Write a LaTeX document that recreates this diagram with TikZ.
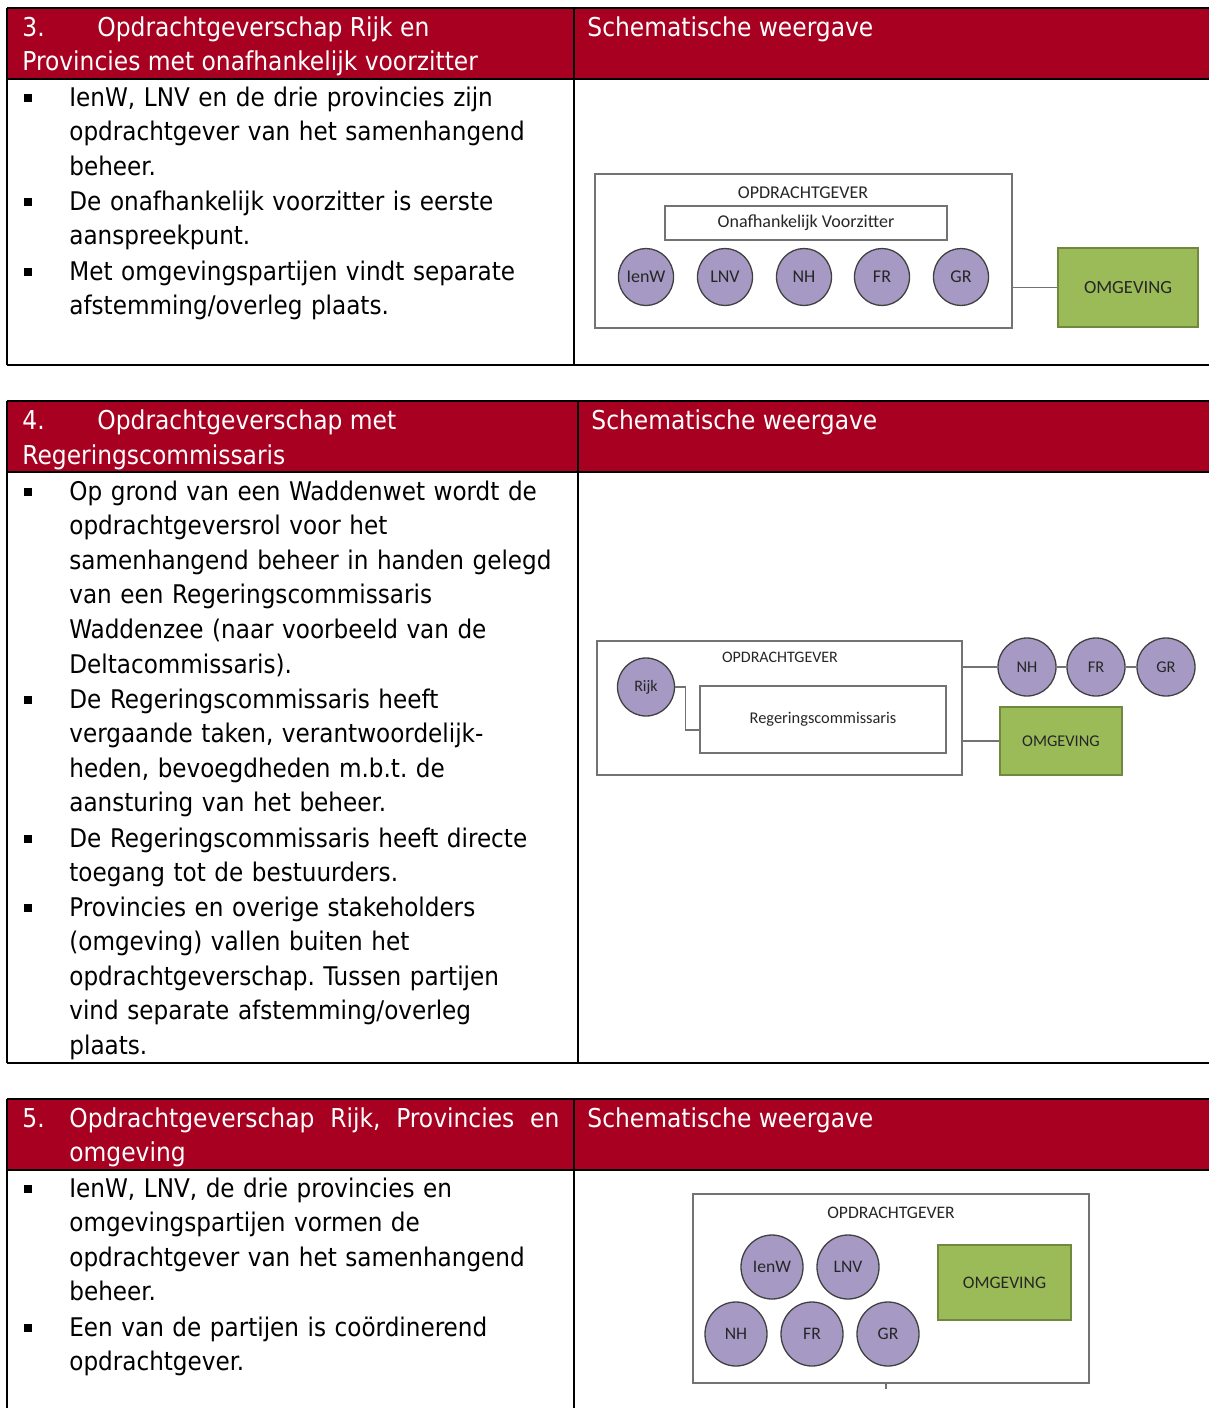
\documentclass[tikz,border=0pt]{standalone}
\usepackage{fontspec}
\setmainfont{DejaVu Sans Condensed}
\newfontfamily\calibri{Carlito}
\usepackage{xcolor}
\usepackage{tikz}
\usetikzlibrary{shapes.geometric}
\frenchspacing

\definecolor{kopRood}{RGB}{168,0,33}
\definecolor{paars}{RGB}{166,154,196}
\definecolor{groen}{RGB}{155,187,89}
\definecolor{groenRand}{RGB}{113,137,63}

\begin{document}
\begin{tikzpicture}[x=0.5pt,y=-0.5pt]
			\tikzstyle{rand} = [line width=1pt]
			\tikzstyle{dun} = [line width=0.7pt]
			\tikzstyle{kop} = [anchor=base west, inner sep=0pt, text=white, font=\fontsize{13}{17.33}\selectfont]
			\tikzstyle{tekst} = [anchor=base west, inner sep=0pt, text width=270pt, align=left, font=\fontsize{12.85}{17.33}\selectfont]
			\tikzstyle{blokje} = [fill=black, inner sep=0pt, minimum size=3.6pt]
			\tikzstyle{kader} = [draw=black!55, line width=0.7pt, inner sep=0pt]
			\tikzstyle{label} = [inner sep=0pt, text=black!85]
			\tikzstyle{partij} = [ellipse, draw=black!75, fill=paars, line width=0.65pt, inner sep=0pt, text=black!85]
			\tikzstyle{omgeving} = [draw=groenRand, fill=groen, line width=0.8pt, inner sep=0pt, text=black!85]
			\tikzset{lijn/.style = {draw=black!55, line width=0.6pt}}
			
			\useasboundingbox (0,0) rectangle (1209,1408);
			
			% tabel 3
			\fill[kopRood] (7,8) rectangle (1209,79);
			\draw[rand] (7,8) -- (1209,8);
			\draw[rand] (7,79) -- (1209,79);
			\draw[rand] (7,365) -- (1209,365);
			\draw[dun] (7,8) -- (7,365);
			\draw[dun] (574,8) -- (574,365);
			
			\node[kop](nr3) at (22,36) {3.};
			\node[kop](titel3a) at (97,36) {Opdrachtgeverschap Rijk en};
			\node[kop](titel3b) at (22,70) {Provincies met onafhankelijk voorzitter};
			\node[kop](schema3) at (587,36) {Schematische weergave};
			
			\node[blokje] at (28,98) {};
			\node[tekst](t3a) at (69,106) {IenW, LNV en de drie provincies zijn\\opdrachtgever van het samenhangend\\beheer.};
			\node[blokje] at (28,202) {};
			\node[tekst](t3b) at (69,210) {De onafhankelijk voorzitter is eerste\\aanspreekpunt.};
			\node[blokje] at (28,272) {};
			\node[tekst](t3c) at (69,280) {Met omgevingspartijen vindt separate\\afstemming/overleg plaats.};
			
			% schema 3
			\node[kader, minimum width=208.5pt, minimum height=77pt](opdr3) at (803.5,251) {};
			\node[label, font=\calibri\fontsize{9}{10}\selectfont](opdrtekst3) at (803,193) {OPDRACHTGEVER};
			\node[kader, minimum width=141pt, minimum height=17pt, font=\calibri\fontsize{9}{10}\selectfont, text=black!85](voorzitter3) at (806,223) {Onafhankelijk Voorzitter};
			\node[partij, minimum width=27.5pt, minimum height=28.5pt, font=\calibri\fontsize{9}{10}\selectfont](ienw3) at (646,277) {IenW};
			\node[partij, minimum width=27.5pt, minimum height=28.5pt, font=\calibri\fontsize{9}{10}\selectfont](lnv3) at (725,277) {LNV};
			\node[partij, minimum width=27.5pt, minimum height=28.5pt, font=\calibri\fontsize{9}{10}\selectfont](nh3) at (804,277) {NH};
			\node[partij, minimum width=27.5pt, minimum height=28.5pt, font=\calibri\fontsize{9}{10}\selectfont](fr3) at (882,277) {FR};
			\node[partij, minimum width=27.5pt, minimum height=28.5pt, font=\calibri\fontsize{9}{10}\selectfont](gr3) at (961,277) {GR};
			\node[omgeving, minimum width=70pt, minimum height=39.5pt, font=\calibri\fontsize{9.3}{10}\selectfont](omg3) at (1128,287.5) {OMGEVING};
			\draw[lijn](omg3.west) to (omg3.west -| opdr3.east);
			
			% tabel 4
			\fill[kopRood] (7,401) rectangle (1209,472);
			\draw[rand] (7,401) -- (1209,401);
			\draw[rand] (7,472) -- (1209,472);
			\draw[rand] (7,1063) -- (1209,1063);
			\draw[dun] (7,401) -- (7,1063);
			\draw[dun] (578,401) -- (578,1063);
			
			\node[kop](nr4) at (22,429) {4.};
			\node[kop](titel4a) at (97,429) {Opdrachtgeverschap met};
			\node[kop](titel4b) at (22,464) {Regeringscommissaris};
			\node[kop](schema4) at (591,429) {Schematische weergave};
			
			\node[blokje] at (28,492) {};
			\node[tekst](t4a) at (69,500) {Op grond van een Waddenwet wordt de\\opdrachtgeversrol voor het\\samenhangend beheer in handen gelegd\\van een Regeringscommissaris\\Waddenzee (naar voorbeeld van de\\Deltacommissaris).};
			\node[blokje] at (28,700) {};
			\node[tekst](t4b) at (69,708) {De Regeringscommissaris heeft\\vergaande taken, verantwoordelijk-\\heden, bevoegdheden m.b.t. de\\aansturing van het beheer.};
			\node[blokje] at (28,839) {};
			\node[tekst](t4c) at (69,847) {De Regeringscommissaris heeft directe\\toegang tot de bestuurders.};
			\node[blokje] at (28,908) {};
			\node[tekst](t4d) at (69,916) {Provincies en overige stakeholders\\(omgeving) vallen buiten het\\opdrachtgeverschap. Tussen partijen\\vind separate afstemming/overleg\\plaats.};
			
			% schema 4
			\node[kader, minimum width=182.5pt, minimum height=67pt](opdr4) at (779.5,708) {};
			\node[label, font=\calibri\fontsize{8}{9}\selectfont](opdrtekst4) at (780,657) {OPDRACHTGEVER};
			\node[partij, minimum width=28.5pt, minimum height=29pt, font=\calibri\fontsize{8}{9}\selectfont](rijk4) at (646,687) {Rijk};
			\node[kader, minimum width=123pt, minimum height=33.5pt, font=\calibri\fontsize{8.2}{9}\selectfont, text=black!85](rc4) at (823,719.5) {Regeringscommissaris};
			\draw[lijn](rijk4.east) -- ([xshift=5pt]rijk4.east) |- ([yshift=-5.25pt]rc4.west);
			\node[partij, minimum size=29pt, font=\calibri\fontsize{8.2}{9}\selectfont](nh4) at (1027,667) {NH};
			\node[partij, minimum size=29pt, font=\calibri\fontsize{8.2}{9}\selectfont](fr4) at (1096,667) {FR};
			\node[partij, minimum size=29pt, font=\calibri\fontsize{8.2}{9}\selectfont](gr4) at (1166,667) {GR};
			\node[omgeving, minimum width=61pt, minimum height=34pt, font=\calibri\fontsize{8.2}{9}\selectfont](omg4) at (1061,741) {OMGEVING};
			\draw[lijn](nh4.west) to (nh4.west -| opdr4.east);
			\draw[lijn](fr4) to (nh4);
			\draw[lijn](gr4) to (fr4);
			\draw[lijn](omg4.west) to (omg4.west -| opdr4.east);
			
			% tabel 5
			\fill[kopRood] (7,1099) rectangle (1209,1170);
			\draw[rand] (7,1099) -- (1209,1099);
			\draw[rand] (7,1170) -- (1209,1170);
			\draw[dun] (7,1099) -- (7,1408);
			\draw[dun] (574,1099) -- (574,1408);
			
			\node[kop](nr5) at (22,1127) {5.};
			\node[kop](titel5a) at (69,1127) {\makebox[245pt][s]{Opdrachtgeverschap\hfill Rijk,\hfill Provincies\hfill en}};
			\node[kop](titel5b) at (69,1161) {omgeving};
			\node[kop](schema5) at (587,1127) {Schematische weergave};
			
			\node[blokje] at (28,1189) {};
			\node[tekst](t5a) at (69,1197) {IenW, LNV, de drie provincies en\\omgevingspartijen vormen de\\opdrachtgever van het samenhangend\\beheer.};
			\node[blokje] at (28,1328) {};
			\node[tekst](t5b) at (69,1336) {Een van de partijen is coördinerend\\opdrachtgever.};
			
			% schema 5
			\node[kader, minimum width=198pt, minimum height=94.5pt](opdr5) at (891,1288.5) {};
			\node[label, font=\calibri\fontsize{8.8}{10}\selectfont](opdrtekst5) at (891,1213) {OPDRACHTGEVER};
			\node[partij, minimum width=31pt, minimum height=32pt, font=\calibri\fontsize{8.8}{10}\selectfont](ienw5) at (772,1267) {IenW};
			\node[partij, minimum width=31pt, minimum height=32pt, font=\calibri\fontsize{8.8}{10}\selectfont](lnv5) at (848,1267) {LNV};
			\node[partij, minimum width=31pt, minimum height=32pt, font=\calibri\fontsize{8.8}{10}\selectfont](nh5) at (736,1334) {NH};
			\node[partij, minimum width=31pt, minimum height=32pt, font=\calibri\fontsize{8.8}{10}\selectfont](fr5) at (812,1334) {FR};
			\node[partij, minimum width=31pt, minimum height=32pt, font=\calibri\fontsize{8.8}{10}\selectfont](gr5) at (888,1334) {GR};
			\node[omgeving, minimum width=66.5pt, minimum height=37.5pt, font=\calibri\fontsize{8.8}{10}\selectfont](omg5) at (1004.5,1282.5) {OMGEVING};
			\coordinate(stip5) at (886,1389);
			\draw[lijn](stip5 |- opdr5.south) to (stip5);
			
			\end{tikzpicture}
\end{document}
